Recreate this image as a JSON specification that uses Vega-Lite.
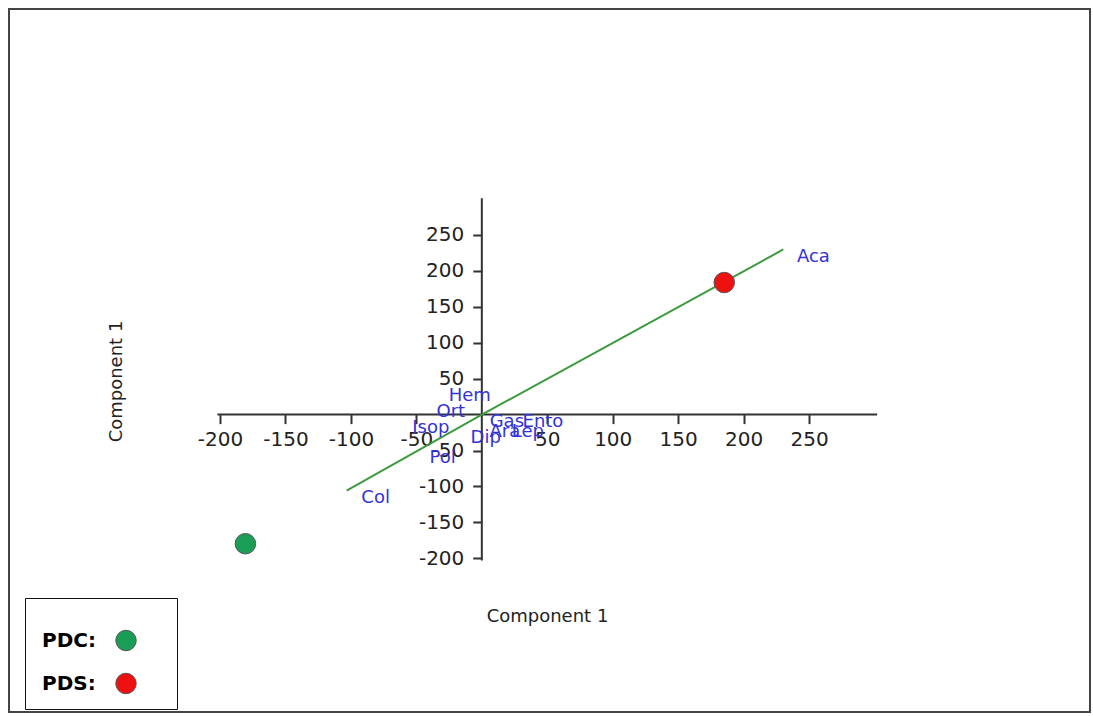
{
  "$schema": "https://vega.github.io/schema/vega-lite/v6.json",
  "autosize": {"type": "none"},
  "width": 1081,
  "height": 703,
  "padding": {"left": 9, "top": 9, "right": 3, "bottom": 4},
  "background": "white",
  "config": {
    "view": {"stroke": "#444", "strokeWidth": 2},
    "font": "DejaVu Sans"
  },
  "datasets": {
    "axislines": [
      {"x": -202, "y": 0, "x2": 302, "y2": 0},
      {"x": 0, "y": -203, "x2": 0, "y2": 301}
    ],
    "vectors": [
      {"variable": "Col", "x": 0, "y": 0, "x2": -103.3, "y2": -105.8},
      {"variable": "Aca", "x": 0, "y": 0, "x2": 230.3, "y2": 229.8}
    ],
    "labels": [
      {"label": "Aca", "x": 253.3, "y": 218.7},
      {"label": "Col", "x": -81.1, "y": -115.6},
      {"label": "Hem", "x": -9.2, "y": 26.5},
      {"label": "Ort", "x": -23.7, "y": 4.2},
      {"label": "Isop", "x": -39, "y": -18},
      {"label": "Dip", "x": 3, "y": -33},
      {"label": "Pol", "x": -30, "y": -61},
      {"label": "Gas", "x": 19.1, "y": -9.7},
      {"label": "Ento", "x": 46.7, "y": -9.7},
      {"label": "Ara", "x": 17.6, "y": -23.7},
      {"label": "Lep", "x": 35.2, "y": -23.7}
    ],
    "scores": [
      {"group": "PDC", "x": -180.6, "y": -179.7},
      {"group": "PDS", "x": 185.2, "y": 183.8}
    ]
  },
  "encoding": {
    "x": {
      "field": "x",
      "type": "quantitative",
      "scale": {"domain": [-361.2, 464.6], "nice": false, "zero": false},
      "axis": {
        "values": [-200, -150, -100, -50, 50, 100, 150, 200, 250],
        "labelExpr": "'' + datum.value",
        "domain": false,
        "grid": false,
        "offset": -297.4,
        "tickSize": 9,
        "tickWidth": 2,
        "tickColor": "#333",
        "labelFont": "DejaVu Sans",
        "labelFontSize": 20,
        "labelColor": "#222",
        "labelPadding": 6,
        "labelFlush": false,
        "labelOverlap": false,
        "title": "Component 1",
        "titleFont": "DejaVu Sans",
        "titleFontSize": 18,
        "titleFontWeight": "normal",
        "titleColor": "#222",
        "titleX": 538,
        "titleY": 202,
        "titleAlign": "center",
        "titleBaseline": "middle"
      }
    },
    "y": {
      "field": "y",
      "type": "quantitative",
      "scale": {"domain": [-413.9, 564.5], "nice": false, "zero": false},
      "axis": {
        "values": [-200, -150, -100, -50, 50, 100, 150, 200, 250],
        "labelExpr": "'' + datum.value",
        "domain": false,
        "grid": false,
        "offset": -472.8,
        "tickSize": 9,
        "tickWidth": 2,
        "tickColor": "#333",
        "labelFont": "DejaVu Sans",
        "labelFontSize": 20,
        "labelColor": "#222",
        "labelPadding": 9,
        "labelFlush": false,
        "labelOverlap": false,
        "title": "Component 1",
        "titleFont": "DejaVu Sans",
        "titleFontSize": 18,
        "titleFontWeight": "normal",
        "titleColor": "#222",
        "titleAngle": -90,
        "titleX": -365,
        "titleY": 372,
        "titleAlign": "center",
        "titleBaseline": "middle"
      }
    }
  },
  "layer": [
    {
      "data": {"name": "axislines"},
      "mark": {"type": "rule", "color": "#333", "strokeWidth": 2},
      "encoding": {"x2": {"field": "x2"}, "y2": {"field": "y2"}}
    },
    {
      "data": {"name": "vectors"},
      "mark": {"type": "rule", "color": "#3d9a3d", "strokeWidth": 2},
      "encoding": {"x2": {"field": "x2"}, "y2": {"field": "y2"}}
    },
    {
      "data": {"name": "labels"},
      "mark": {"type": "text", "color": "#3333d8", "fontSize": 18, "font": "DejaVu Sans", "align": "center", "baseline": "middle"},
      "encoding": {"text": {"field": "label"}}
    },
    {
      "data": {"name": "scores"},
      "mark": {"type": "point", "filled": true, "size": 420, "opacity": 1, "stroke": "#555", "strokeWidth": 1},
      "encoding": {
        "color": {
          "field": "group",
          "type": "nominal",
          "scale": {"domain": ["PDC", "PDS"], "range": ["#1a9e55", "#ee1111"]},
          "legend": {
            "orient": "none",
            "legendX": 16,
            "legendY": 589,
            "title": "\u2800\u2800\u2800\u2800\u2800\u2800\u2800\u2800\u2800\u2800\u2800\u2800\u2800\u2800",
            "titleFontSize": 11.5,
            "titlePadding": 7,
            "padding": 13,
            "strokeColor": "#111",
            "labelFont": "DejaVu Sans",
            "labelFontSize": 20,
            "labelFontWeight": "bold",
            "labelColor": "#000",
            "labelExpr": "datum.label + ':'",
            "labelOffset": -95,
            "symbolOffset": 77,
            "symbolSize": 420,
            "symbolType": "circle",
            "symbolStrokeWidth": 1,
            "rowPadding": 17
          }
        }
      }
    }
  ]
}
